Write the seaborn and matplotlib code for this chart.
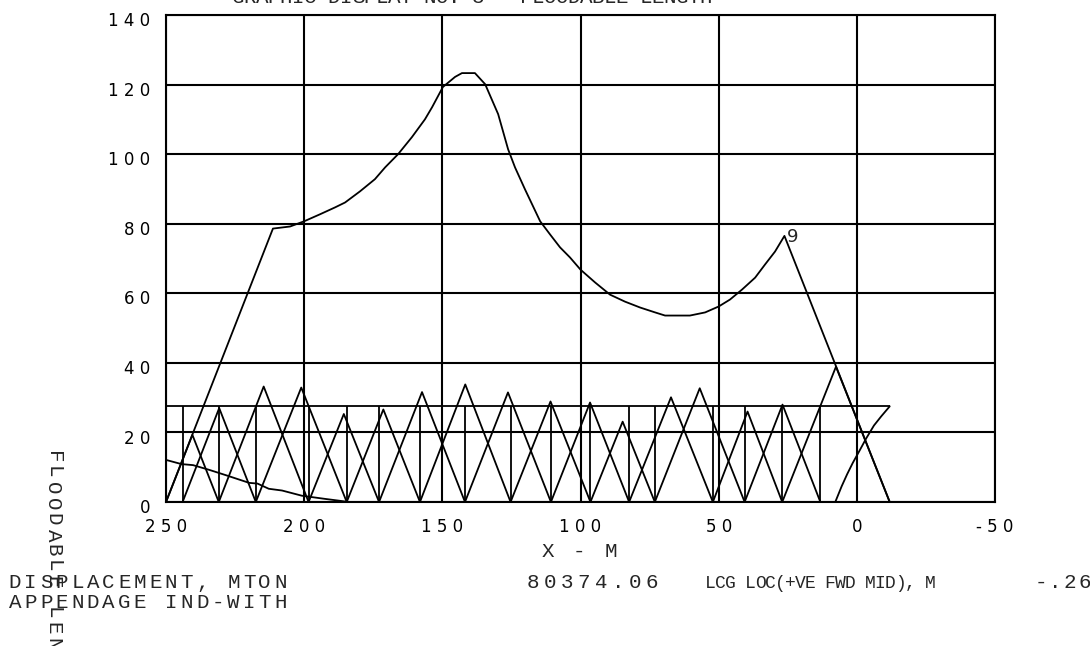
import matplotlib
matplotlib.use("Agg")
import matplotlib.pyplot as plt
import seaborn as sns
import pandas as pd
from matplotlib.transforms import ScaledTranslation

# floodable length curve (x = position from AP, m; y = floodable length, m)
flood_x = [250, 211.3, 205.1, 200, 194.3, 188.8, 185.2, 179.8, 174.4, 170.7, 166.0,
           161.0, 156.3, 153.7, 149.8, 145.4, 142.9, 138.2, 134.5, 129.8, 126.2,
           123.7, 120.1, 114.6, 111.0, 107.4, 103.8, 100, 94.7, 89.3, 83.9, 78.4,
           73.0, 69.4, 60.4, 54.9, 50.0, 45.9, 41.5, 36.8, 33.2, 29.6, 26.2, -11.9]
flood_y = [0, 78.6, 79.2, 80.7, 82.7, 84.7, 86.1, 89.3, 92.8, 96.2, 100,
           104.9, 110, 113.5, 119.3, 122.2, 123.3, 123.3, 120.1, 111.5, 101.4,
           96.2, 89.9, 80.7, 76.9, 73.2, 70.3, 66.8, 63.1, 59.6, 57.6, 55.9,
           54.5, 53.6, 53.6, 54.5, 56.2, 58.2, 61.1, 64.5, 68.3, 72.0, 76.5, 0]

# aft and forward end curves
aft_x = [250, 244.4, 240.2, 234.2, 228.3, 219.9, 216.9, 212.8, 208.0, 200.8, 192.5, 187.6, 184.8]
aft_y = [12.1, 10.9, 10.6, 9.2, 7.7, 5.5, 5.3, 3.8, 3.3, 1.8, 0.9, 0.4, 0.1]
fwd_x = [7.8, 5.5, 3.5, 1.5, -0.8, -3.4, -6.2, -8.8, -11.9]
fwd_y = [0, 4.5, 8.0, 11.2, 14.5, 18.3, 22.0, 24.6, 27.5]

# bulkhead positions and peak of each two-compartment triangle
bulkheads = [250, 244.0, 230.9, 217.5, 198.4, 184.6, 172.9, 158.1, 141.8, 125.3,
             110.7, 96.4, 82.4, 73.1, 52.1, 40.6, 27.0, 13.2, -11.9]
pair_peaks = [19.3, 27.0, 33.2, 32.9, 25.3, 26.6, 31.6, 33.8, 31.5, 28.9,
              28.6, 23.1, 30.1, 32.7, 26.0, 28.0, 38.9]
box_top = 27.5

x_ticks = [250, 200, 150, 100, 50, 0, -50]
x_labels = ["2 5 0", "2 0 0", "1 5 0", "1 0 0", "5 0", "0", "- 5 0"]
y_ticks = [0, 20, 40, 60, 80, 100, 120, 140]
y_labels = ["0", "2 0", "4 0", "6 0", "8 0", "1 0 0", "1 2 0", "1 4 0"]

sns.set_style("white")
plt.rcParams["font.family"] = ["DejaVu Sans"]

W, H = 1090, 646
fig = plt.figure(figsize=(W / 100, H / 100), dpi=100)
ax = fig.add_axes([166 / W, 1 - 502 / H, (995 - 166) / W, (502 - 15) / H])

rows = []
for i, h in enumerate(pair_peaks):
    a, c = bulkheads[i], bulkheads[i + 2]
    rows += [(i, a, 0), (i, (a + c) / 2, h), (i, c, 0)]
tri = pd.DataFrame(rows, columns=["pair", "x", "y"])

lw = 1.3
sns.lineplot(data=tri, x="x", y="y", units="pair", estimator=None, sort=False,
             color="black", lw=lw, ax=ax)
sns.lineplot(x=flood_x, y=flood_y, sort=False, estimator=None, color="black", lw=lw, ax=ax)
sns.lineplot(x=aft_x, y=aft_y, sort=False, estimator=None, color="black", lw=lw, ax=ax)
sns.lineplot(x=fwd_x, y=fwd_y, sort=False, estimator=None, color="black", lw=lw, ax=ax)
ax.vlines(bulkheads[1:-1], 0, box_top, color="black", lw=lw)
ax.hlines(box_top, bulkheads[0], bulkheads[-1], color="black", lw=lw)

ax.text(25.2, 74.6, "9", ha="left", va="baseline", fontsize=13)

ax.set_xlim(250, -50)
ax.set_ylim(0, 140)
ax.set_xticks(x_ticks)
ax.set_xticklabels(x_labels)
ax.set_yticks(y_ticks)
ax.set_yticklabels(y_labels)
ax.set_xlabel("")
ax.set_ylabel("")
ax.grid(True, color="black", lw=1.5)
ax.set_axisbelow(True)
ax.tick_params(length=0, pad=11.5, labelsize=12, colors="black")
for s in ax.spines.values():
    s.set_color("black")
    s.set_linewidth(1.5)
shift = ScaledTranslation(0, -3 / 72, fig.dpi_scale_trans)
for lab in ax.get_yticklabels():
    lab.set_transform(lab.get_transform() + shift)


def mono(x, y, s, pitch=15.6, size=15, vertical=False):
    # old plotter text: fixed character pitch in pixels
    for i, ch in enumerate(s):
        if ch == " ":
            continue
        if vertical:
            fig.text(x / W, 1 - (y + i * pitch) / H, ch, rotation=-90, ha="center",
                     va="center", family="Liberation Mono", fontsize=size)
        else:
            fig.text((x + i * pitch) / W, 1 - y / H, ch, ha="center", va="baseline",
                     family="Liberation Mono", fontsize=size)


mono(238, 3, "GRAPHIC DISPLAY NO. 3 - FLOODABLE LENGTH", pitch=12)
mono(53, 457, "FLOODABLE LENGTH - M", vertical=True)
mono(548, 557, "X - M")
mono(15, 588, "DISPLACEMENT, MTON")
mono(15, 608, "APPENDAGE IND-WITH")
mono(533, 588, "80374.06", pitch=17)
mono(710, 588, "LCG LOC(+VE FWD MID), M", pitch=10, size=13)
mono(1041, 588, "-.26", pitch=14.5)

fig.savefig("out.png", dpi=100)
